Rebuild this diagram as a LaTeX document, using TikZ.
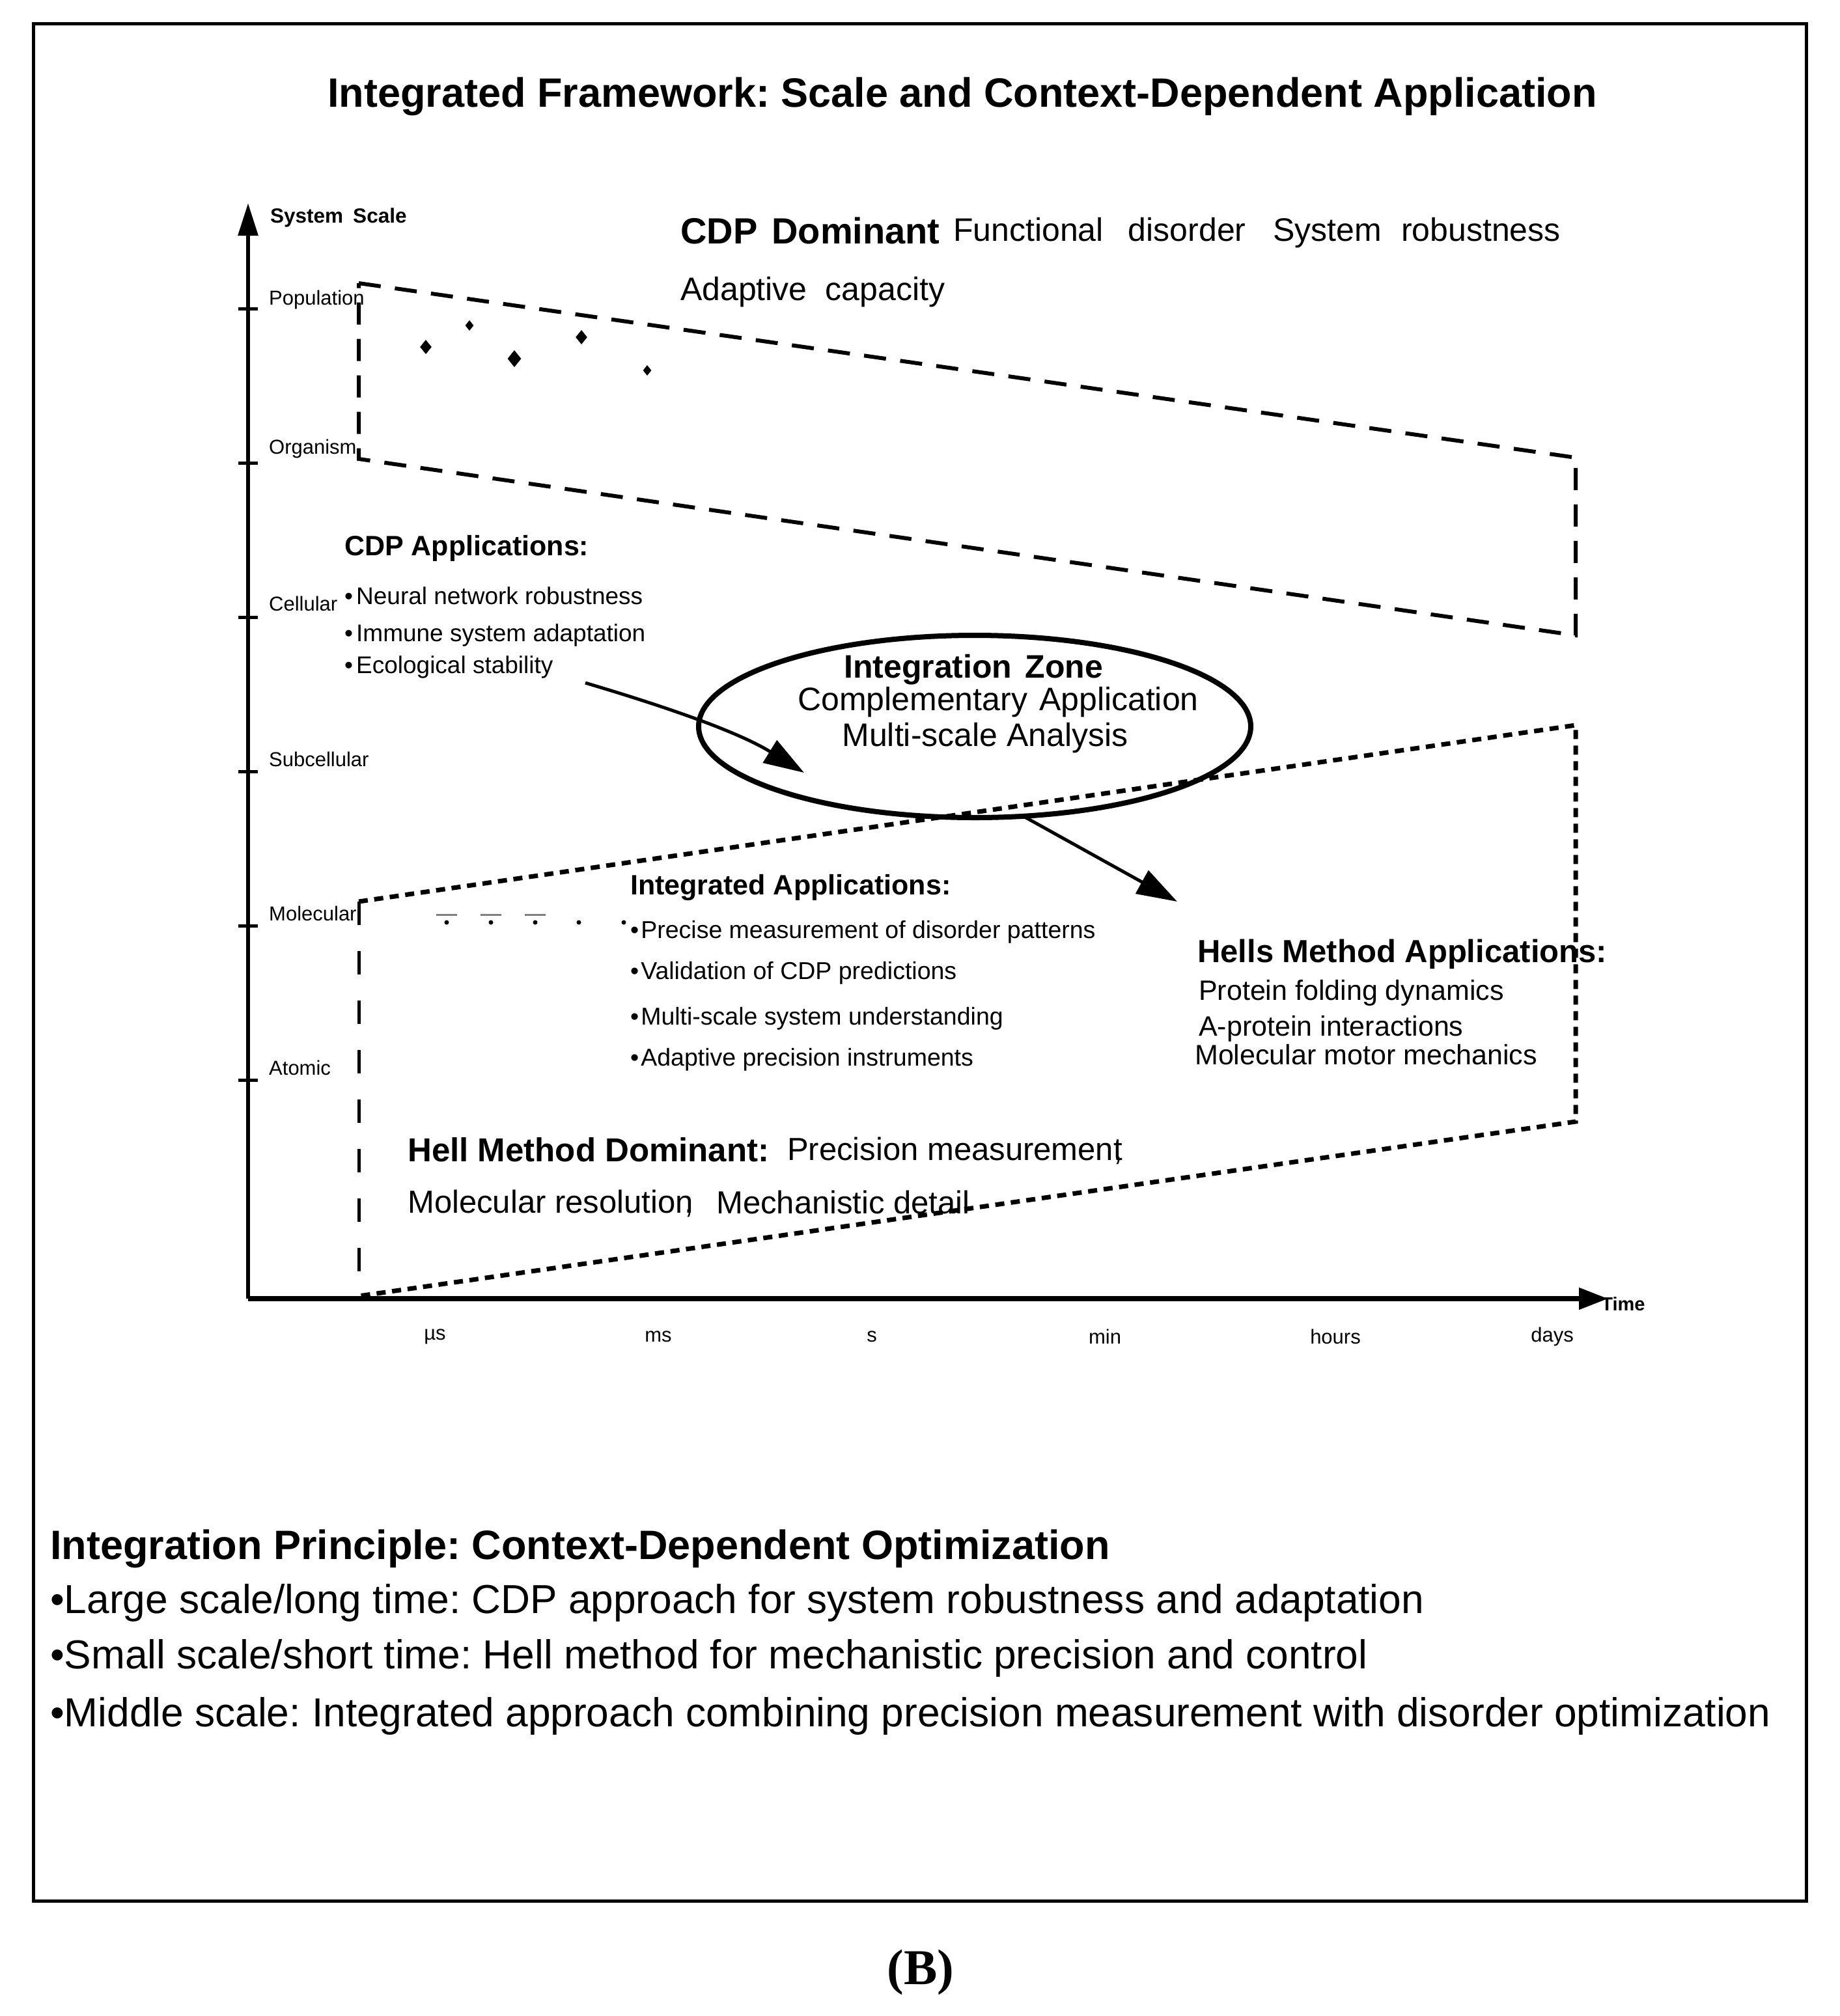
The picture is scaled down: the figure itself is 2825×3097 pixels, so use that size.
\documentclass[tikz,border=0pt]{standalone}
\usepackage{fontspec}
\setmainfont{Liberation Sans}
\newfontfamily\capserif{Liberation Serif}
\usetikzlibrary{arrows.meta,shapes.geometric}
\frenchspacing
\begin{document}
\begin{tikzpicture}[x=1pt,y=-1pt,
  txt/.style={inner sep=0pt,anchor=west},
  ctr/.style={inner sep=0pt,anchor=center},
  axislbl/.style={txt,font=\fontsize{31}{36}\selectfont},
  timelbl/.style={ctr,font=\fontsize{31}{36}\selectfont},
  longdash/.style={line width=6,dash pattern=on 34 off 22},
  shortdash/.style={line width=7,dash pattern=on 14 off 10},
  arr/.style={line width=5,-{Triangle[length=62,width=40]}},
  tick/.style={line width=5},
  gem/.style={fill=black}]
\useasboundingbox (0,0) rectangle (2825,3097);
% frame
\draw[line width=5] (51,36) rectangle (2774,2920);
% title
\node[ctr,font=\bfseries\fontsize{63}{72}\selectfont] (title) at (1478,148) {Integrated Framework: Scale and Context-Dependent Application};
% axes
\coordinate (origin) at (381,1995);
\coordinate (ytop) at (381,312);
\coordinate (xend) at (2470,1995);
\draw[line width=6,-{Triangle[length=50,width=30]}] (origin) -- (ytop);
\draw[line width=8,-{Triangle[length=45,width=32]}] (origin) -- (xend);
\node[txt,font=\bfseries\fontsize{31.5}{36}\selectfont] (ylab) at (415,334) {System\hspace{15pt}Scale};
\node[ctr,font=\bfseries\fontsize{29}{34}\selectfont] (xlab) at (2493,2003) {Time};
% ticks
\foreach \yy in {474,711,948,1185,1422,1659} {\draw[tick] (366,\yy) -- (396,\yy);}
\node[axislbl] (lpop) at (413,460) {Population};
\node[axislbl] (lorg) at (413,689) {Organism};
\node[axislbl] (lcel) at (413,927) {Cellular};
\node[axislbl] (lsub) at (413,1166) {Subcellular};
\node[axislbl] (lmol) at (413,1403) {Molecular};
\node[axislbl] (latm) at (413,1640) {Atomic};
\node[timelbl] (tmu) at (668,2053) {µs};
\node[timelbl] (tms) at (1011,2053) {ms};
\node[timelbl] (ts) at (1339,2053) {s};
\node[timelbl] (tmin) at (1697,2053) {min};
\node[timelbl] (thr) at (2051,2053) {hours};
\node[timelbl] (tday) at (2384,2053) {days};
% upper trapezoid (CDP region)
\coordinate (u1) at (551,435);
\coordinate (u2) at (2420,703);
\coordinate (u3) at (2420,976);
\coordinate (u4) at (551,705);
\draw[longdash] (u1) -- (u2) -- (u3) -- (u4) -- cycle;
% lower trapezoid (Hell region)
\coordinate (l1) at (551,1385);
\coordinate (l2) at (2420,1114);
\coordinate (l3) at (2420,1723);
\coordinate (l4) at (551,1991);
\draw[shortdash] (l1) -- (l2) -- (l3) -- (l4);
\draw[line width=5,dash pattern=on 36 off 40] (l1) -- (l4);
% scattered diamonds
\foreach \px/\py/\s in {654/533/11,721/500/8,790/551/13,893/518/11,994/569/8}
  {\fill[gem] (\px,\py-\s) -- (\px+0.8*\s,\py) -- (\px,\py+\s) -- (\px-0.8*\s,\py) -- cycle;}
% molecular marks
\foreach \px in {686,754,822} {\draw[gray,line width=3] (\px-16,1405) -- (\px+16,1405);}
\foreach \px in {686,754,822,889,958} {\fill (\px,1417) circle (3.5);}
% CDP dominant text
\node[txt,font=\bfseries\fontsize{56}{64}\selectfont] (cdpdom) at (1045,354) {CDP\hspace{22pt}Dominant};
\node[txt,font=\fontsize{50}{60}\selectfont] (cdpfeat) at (1464,358) {Functional\hspace{38pt}disorder\hspace{42pt}System\hspace{30pt}robustness};
\node[txt,font=\fontsize{50}{60}\selectfont] (cdpadapt) at (1045,449) {Adaptive\hspace{28pt}capacity};
% CDP applications
\node[txt,font=\bfseries\fontsize{43}{50}\selectfont] (cdpapp) at (529,842) {CDP Applications:};
\node[txt,font=\fontsize{37}{44}\selectfont] (cdp1) at (529,915) {•\hspace{5pt}Neural network robustness};
\node[txt,font=\fontsize{37}{44}\selectfont] (cdp2) at (529,976) {•\hspace{5pt}Immune system adaptation};
\node[txt,font=\fontsize{37}{44}\selectfont] (cdp3) at (529,1025) {•\hspace{5pt}Ecological stability};
% integration zone
\node[ellipse,draw,line width=8,minimum width=848,minimum height=280,inner sep=0pt] (zone) at (1497,1116) {};
\node[ctr,font=\bfseries\fontsize{50}{60}\selectfont] (zt1) at (1495,1029) {Integration\hspace{20pt}Zone};
\node[ctr,font=\fontsize{50}{60}\selectfont] (zt2) at (1533,1079) {Complementary\hspace{18pt}Application};
\node[ctr,font=\fontsize{50}{60}\selectfont] (zt3) at (1513,1134) {Multi-scale Analysis};
% integrated applications
\node[txt,font=\bfseries\fontsize{43}{50}\selectfont] (intapp) at (968,1363) {Integrated Applications:};
\node[txt,font=\fontsize{37.5}{44}\selectfont] (int1) at (968,1432) {•\hspace{3pt}Precise measurement of disorder patterns};
\node[txt,font=\fontsize{37.5}{44}\selectfont] (int2) at (968,1495) {•\hspace{3pt}Validation of CDP predictions};
\node[txt,font=\fontsize{37.5}{44}\selectfont] (int3) at (968,1565) {•\hspace{3pt}Multi-scale system understanding};
\node[txt,font=\fontsize{37.5}{44}\selectfont] (int4) at (968,1628) {•\hspace{3pt}Adaptive precision instruments};
% Hells method applications
\node[txt,font=\bfseries\fontsize{49}{56}\selectfont] (hellapp) at (1839,1466) {Hells Method Applications:};
\node[txt,font=\fontsize{43}{50}\selectfont] (hell1) at (1841,1525) {Protein folding dynamics};
\node[txt,font=\fontsize{43}{50}\selectfont] (hell2) at (1841,1580) {A-protein interactions};
\node[txt,font=\fontsize{43}{50}\selectfont] (hell3) at (1835,1620) {Molecular motor mechanics};
% Hell method dominant
\node[txt,font=\bfseries\fontsize{51}{58}\selectfont] (helldom) at (626,1766) {Hell Method\hspace{14pt}Dominant:};
\node[txt,font=\fontsize{49}{58}\selectfont] (hellf1) at (1209,1768) {Precision measurement\llap{,}};
\node[txt,font=\fontsize{49}{58}\selectfont] (hellf2) at (626,1849) {Molecular resolution\llap{,}};
\node[txt,font=\fontsize{49}{58}\selectfont] (hellf3) at (1100,1847) {Mechanistic detail};
% connectors
\coordinate (a1s) at (899,1049);
\coordinate (a1e) at (1235,1187);
\draw[arr] (a1s) .. controls (1010,1082) and (1130,1122) .. (a1e);
\coordinate (a2s) at (1572,1254);
\coordinate (a2e) at (1808,1385);
\draw[arr] (a2s) -- (a2e);
% bottom principle
\node[txt,font=\bfseries\fontsize{63}{72}\selectfont] (princ) at (77,2379) {Integration Principle: Context-Dependent Optimization};
\node[txt,font=\fontsize{62.2}{72}\selectfont] (pr1) at (77,2462) {•Large scale/long time: CDP approach for system robustness and adaptation};
\node[txt,font=\fontsize{62.2}{72}\selectfont] (pr2) at (77,2547) {•Small scale/short time: Hell method for mechanistic precision and control};
\node[txt,font=\fontsize{62.2}{72}\selectfont] (pr3) at (77,2636) {•Middle scale: Integrated approach combining precision measurement with disorder optimization};
% panel label
\node[ctr,font=\capserif\bfseries\fontsize{77}{86}\selectfont] (panel) at (1414,3030) {(B)};
\end{tikzpicture}
\end{document}
